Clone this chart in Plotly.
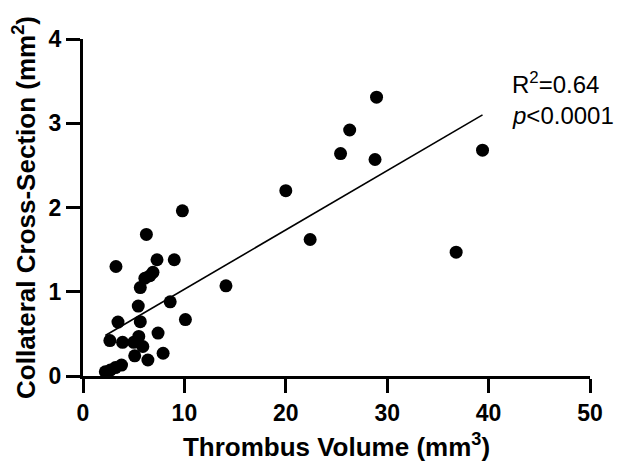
import plotly.graph_objects as go

# Data
thrombus_volume = [2.2, 2.7, 3.2, 3.8, 2.65, 3.25, 3.45, 3.9, 5.0, 5.1, 5.45, 5.5,
                   5.65, 5.65, 5.9, 6.1, 6.25, 6.4, 6.6, 6.9, 7.3, 7.4, 7.9, 8.6,
                   9.0, 9.8, 10.1, 14.1, 20.0, 22.4, 25.4, 26.3, 28.8, 28.95, 36.8, 39.4]
collateral_cs = [0.05, 0.07, 0.10, 0.13, 0.42, 1.30, 0.64, 0.40, 0.40, 0.24, 0.83, 0.47,
                 0.645, 1.05, 0.35, 1.16, 1.68, 0.19, 1.19, 1.23, 1.38, 0.51, 0.27, 0.88,
                 1.38, 1.96, 0.67, 1.07, 2.20, 1.62, 2.64, 2.92, 2.57, 3.31, 1.47, 2.68]

fit_x = [2.2, 39.4]
fit_y = [0.48, 3.10]

x_ticks = [0, 10, 20, 30, 40, 50]
y_ticks = [0, 1, 2, 3, 4]

FONT = "Liberation Sans, Arial, sans-serif"

fig = go.Figure()
fig.add_trace(go.Scatter(
    x=fit_x, y=fit_y, mode="lines",
    line=dict(color="black", width=1.6),
    showlegend=False, hoverinfo="skip"))
fig.add_trace(go.Scatter(
    x=thrombus_volume, y=collateral_cs, mode="markers",
    marker=dict(color="black", size=13, line=dict(width=0)),
    cliponaxis=False, showlegend=False))

axis_common = dict(
    showgrid=False, zeroline=False, showline=True, linecolor="black", linewidth=3,
    ticks="outside", ticklen=14, tickwidth=3, tickcolor="black",
    tickfont=dict(family=FONT, size=23, color="black", weight="bold"),
    automargin=False,
)

fig.update_xaxes(
    range=[0, 50], tickvals=x_ticks, ticktext=[str(v) for v in x_ticks],
    title=dict(text="<b>Thrombus Volume (mm<sup>3</sup>)</b>",
               font=dict(family=FONT, size=26, color="black"), standoff=14),
    **axis_common)
fig.update_yaxes(
    range=[0, 4], tickvals=y_ticks, ticktext=[str(v) for v in y_ticks],
    title=dict(text="<b>Collateral Cross-Section (mm<sup>2</sup>)</b>",
               font=dict(family=FONT, size=26, color="black"), standoff=8),
    **axis_common)

fig.add_annotation(x=42.1, y=3.48, xref="x", yref="y", xanchor="left", yanchor="middle",
                   text="R<sup>2</sup>=0.64", showarrow=False,
                   font=dict(family=FONT, size=24, color="black"))
fig.add_annotation(x=42.1, y=3.09, xref="x", yref="y", xanchor="left", yanchor="middle",
                   text="<i>p</i><0.0001", showarrow=False,
                   font=dict(family=FONT, size=24, color="black"))

fig.update_layout(
    width=616, height=461,
    margin=dict(l=75, r=34, t=31, b=93),
    plot_bgcolor="white", paper_bgcolor="white",
    font=dict(family=FONT, color="black"),
)

fig.write_html("out.html")
